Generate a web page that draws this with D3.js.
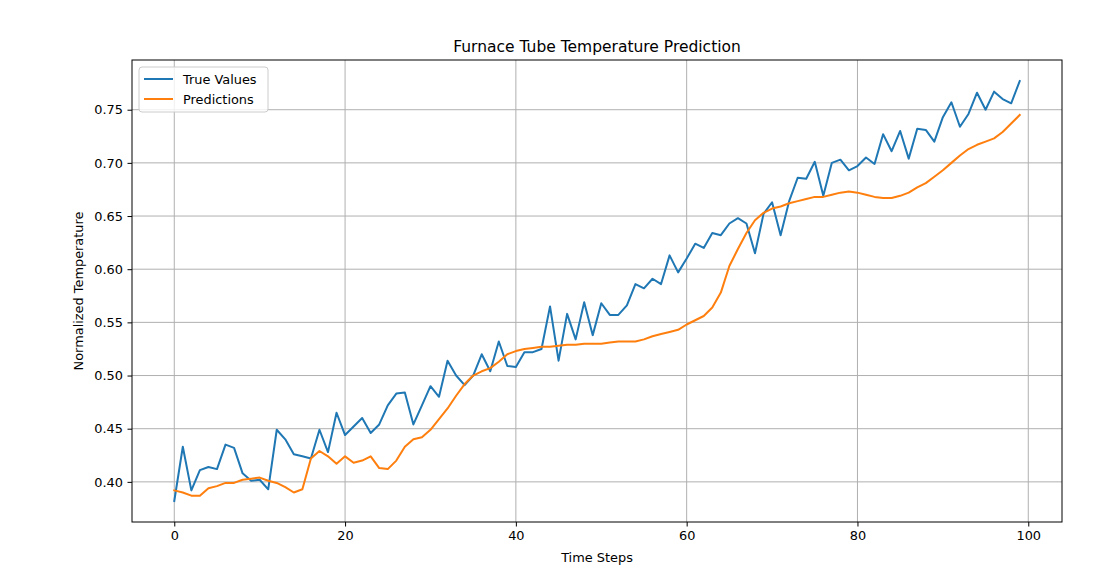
<!DOCTYPE html>
<html>
  <head>
    <title>Furnace Tube Temperature Prediction</title>
    <style>
      body { margin: 0; background: #fff; }
      text { font-family: "DejaVu Sans", sans-serif; fill: #000; }
    </style>
  </head>
  <body>
    <svg id='chart'></svg>

    <script src="https://d3js.org/d3.v7.min.js" type="text/javascript"></script>
    <script>

// values, one per time step (0..99)
const trueValues = [
  0.382, 0.433, 0.392, 0.411, 0.414, 0.412, 0.435, 0.432, 0.408, 0.401,
  0.402, 0.393, 0.449, 0.440, 0.426, 0.424, 0.422, 0.449, 0.428, 0.465,
  0.444, 0.452, 0.460, 0.446, 0.454, 0.472, 0.483, 0.484, 0.454, 0.472,
  0.490, 0.480, 0.514, 0.500, 0.491, 0.500, 0.520, 0.504, 0.532, 0.509,
  0.508, 0.522, 0.522, 0.525, 0.565, 0.514, 0.558, 0.534, 0.569, 0.538,
  0.568, 0.557, 0.557, 0.566, 0.586, 0.582, 0.591, 0.586, 0.613, 0.597,
  0.610, 0.624, 0.620, 0.634, 0.632, 0.643, 0.648, 0.643, 0.615, 0.652,
  0.663, 0.632, 0.664, 0.686, 0.685, 0.701, 0.669, 0.700, 0.703, 0.693,
  0.697, 0.705, 0.699, 0.727, 0.711, 0.730, 0.704, 0.732, 0.731, 0.720,
  0.743, 0.757, 0.734, 0.746, 0.766, 0.750, 0.767, 0.760, 0.756, 0.777
];

const predictions = [
  0.392, 0.390, 0.387, 0.387, 0.394, 0.396, 0.399, 0.399, 0.402, 0.403,
  0.404, 0.401, 0.399, 0.395, 0.390, 0.393, 0.422, 0.429, 0.424, 0.417,
  0.424, 0.418, 0.420, 0.424, 0.413, 0.412, 0.420, 0.433, 0.440, 0.442,
  0.449, 0.459, 0.469, 0.481, 0.492, 0.500, 0.504, 0.507, 0.513, 0.520,
  0.523, 0.525, 0.526, 0.527, 0.527, 0.528, 0.529, 0.529, 0.530, 0.530,
  0.530, 0.531, 0.532, 0.532, 0.532, 0.534, 0.537, 0.539, 0.541, 0.543,
  0.548, 0.552, 0.556, 0.564, 0.578, 0.603, 0.619, 0.634, 0.646, 0.653,
  0.657, 0.659, 0.662, 0.664, 0.666, 0.668, 0.668, 0.670, 0.672, 0.673,
  0.672, 0.670, 0.668, 0.667, 0.667, 0.669, 0.672, 0.677, 0.681, 0.687,
  0.693, 0.700, 0.707, 0.713, 0.717, 0.720, 0.723, 0.729, 0.737, 0.745
];

const steps = d3.range(trueValues.length);
const xTicks = [0, 20, 40, 60, 80, 100];
const yTicks = [0.40, 0.45, 0.50, 0.55, 0.60, 0.65, 0.70, 0.75];
const seriesNames = ['True Values', 'Predictions'];
const seriesColors = ['#1f77b4', '#ff7f0e'];

const W = 1118, H = 578;
const margin = {top: 60, right: 56, bottom: 56, left: 132};
const width = W - margin.left - margin.right;
const height = H - margin.top - margin.bottom;

const svg = d3.select('#chart')
  .attr('width', W)
  .attr('height', H);

const chart = svg.append('g')
  .attr('transform', `translate(${margin.left}, ${margin.top})`);

// matplotlib style 5% padding on both axes
const xPad = (steps.length - 1) * 0.05;
const x = d3.scaleLinear()
  .domain([-xPad, steps.length - 1 + xPad])
  .range([0, width]);

const allVals = trueValues.concat(predictions);
const yMin = d3.min(allVals), yMax = d3.max(allVals);
const yPad = (yMax - yMin) * 0.05;
const y = d3.scaleLinear()
  .domain([yMin - yPad, yMax + yPad])
  .range([height, 0]);

// grid
chart.append('g')
  .selectAll('line')
  .data(xTicks)
  .enter().append('line')
  .attr('x1', d => x(d)).attr('x2', d => x(d))
  .attr('y1', 0).attr('y2', height)
  .attr('stroke', '#b0b0b0')
  .attr('stroke-width', 1);

chart.append('g')
  .selectAll('line')
  .data(yTicks)
  .enter().append('line')
  .attr('x1', 0).attr('x2', width)
  .attr('y1', d => y(d)).attr('y2', d => y(d))
  .attr('stroke', '#b0b0b0')
  .attr('stroke-width', 1);

// lines
const line = d3.line()
  .x((d, i) => x(i))
  .y(d => y(d));

[trueValues, predictions].forEach(function(series, k) {
  chart.append('path')
    .datum(series)
    .attr('fill', 'none')
    .attr('stroke', seriesColors[k])
    .attr('stroke-width', 2)
    .attr('stroke-linejoin', 'round')
    .attr('stroke-linecap', 'square')
    .attr('d', line);
});

// axes
const xAxis = chart.append('g')
  .attr('transform', `translate(0,${height})`)
  .call(d3.axisBottom(x).tickValues(xTicks).tickSize(4.5).tickPadding(4.5).tickFormat(d3.format('d')));

const yAxis = chart.append('g')
  .call(d3.axisLeft(y).tickValues(yTicks).tickSize(4.5).tickPadding(4.5).tickFormat(d3.format('.2f')));

[xAxis, yAxis].forEach(function(a) {
  a.select('.domain').remove();
  a.selectAll('text')
    .style('font-family', '"DejaVu Sans", sans-serif')
    .style('font-size', '12.9px')
    .attr('fill', '#000');
  a.selectAll('line').attr('stroke', '#000').attr('stroke-width', 1);
});

// frame
chart.append('rect')
  .attr('x', 0).attr('y', 0)
  .attr('width', width).attr('height', height)
  .attr('fill', 'none')
  .attr('stroke', '#000')
  .attr('stroke-width', 1);

// labels
chart.append('text')
  .attr('x', width / 2)
  .attr('y', -8)
  .attr('text-anchor', 'middle')
  .style('font-size', '15.5px')
  .text('Furnace Tube Temperature Prediction');

chart.append('text')
  .attr('x', width / 2)
  .attr('y', height + 40)
  .attr('text-anchor', 'middle')
  .style('font-size', '12.9px')
  .text('Time Steps');

chart.append('text')
  .attr('transform', `translate(${-49},${height / 2}) rotate(-90)`)
  .attr('text-anchor', 'middle')
  .style('font-size', '12.9px')
  .text('Normalized Temperature');

// legend
const legend = chart.append('g')
  .attr('transform', 'translate(7,7)');

legend.append('rect')
  .attr('width', 129).attr('height', 45)
  .attr('rx', 3)
  .attr('fill', '#fff')
  .attr('fill-opacity', 0.8)
  .attr('stroke', '#cccccc')
  .attr('stroke-width', 1);

seriesNames.forEach(function(name, k) {
  const ly = 12 + k * 20;
  legend.append('line')
    .attr('x1', 5).attr('x2', 34)
    .attr('y1', ly).attr('y2', ly)
    .attr('stroke', seriesColors[k])
    .attr('stroke-width', 2);
  legend.append('text')
    .attr('x', 44)
    .attr('y', ly)
    .attr('dy', '0.35em')
    .style('font-size', '12.9px')
    .text(name);
});
</script>
  </body>
</html>
